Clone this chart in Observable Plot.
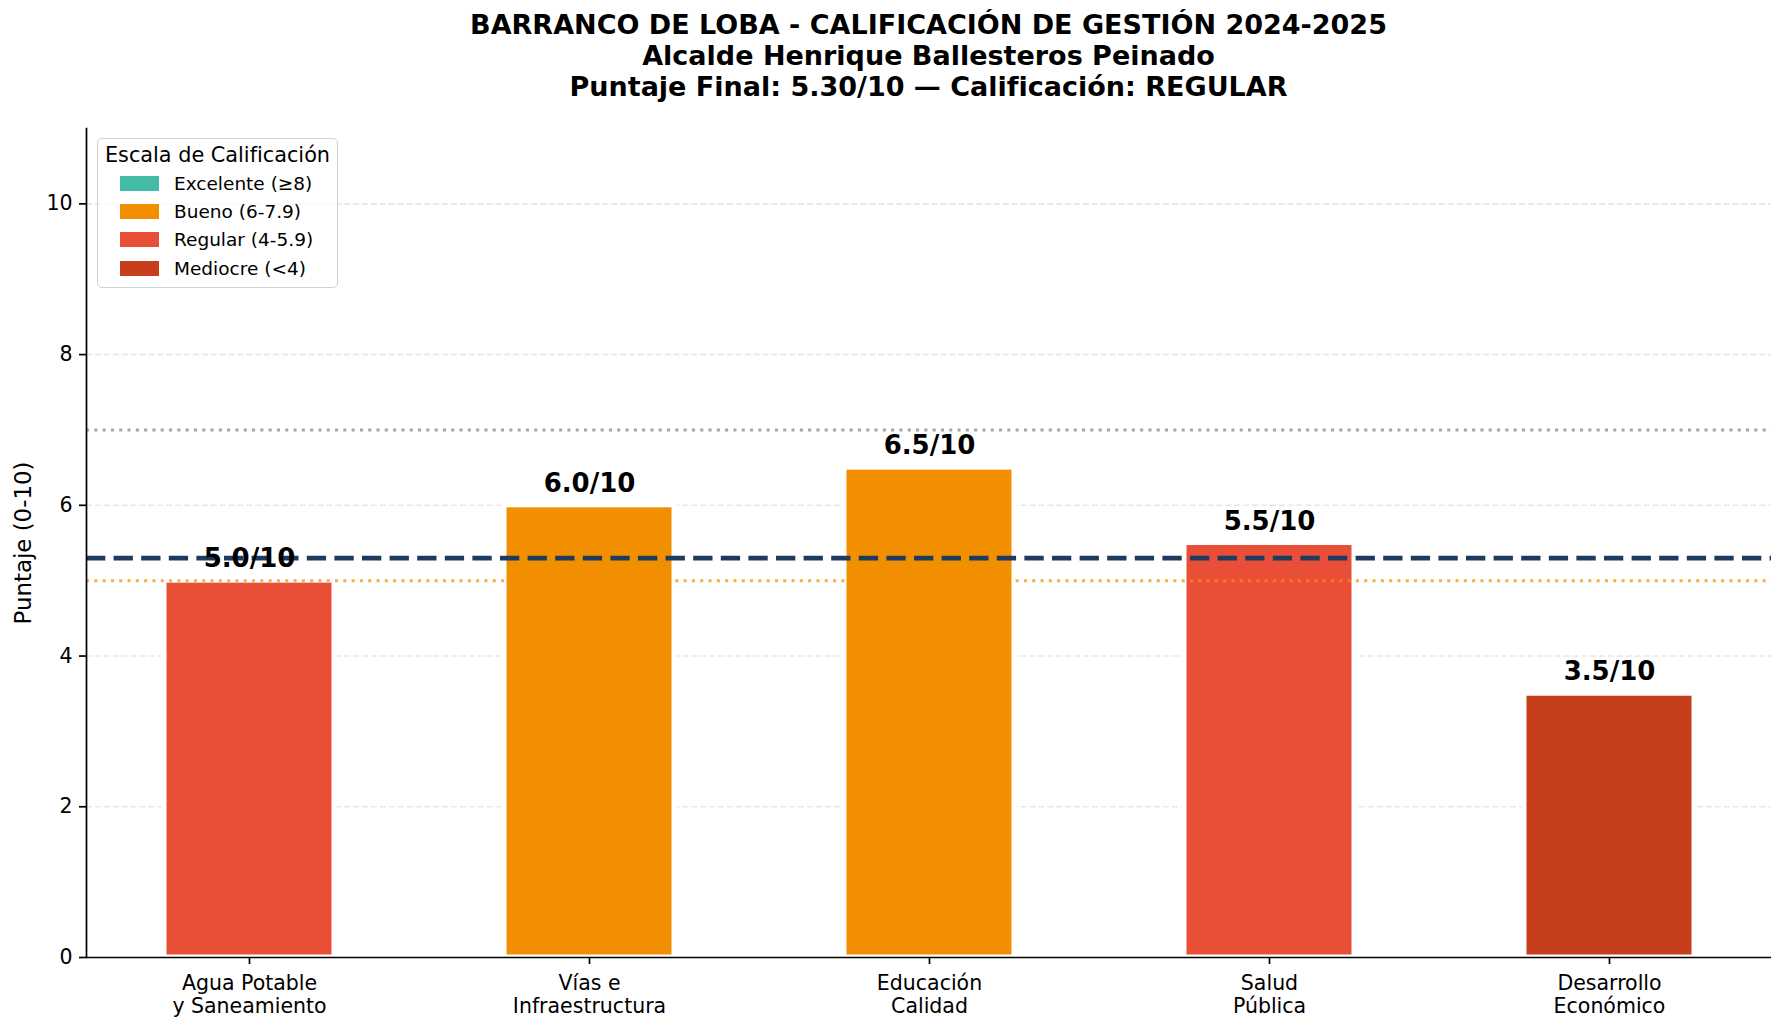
<!DOCTYPE html>
<html lang="es">
<head>
<meta charset="utf-8">
<script src="https://cdn.jsdelivr.net/npm/d3@7"></script>
<script src="https://cdn.jsdelivr.net/npm/@observablehq/plot@0.6"></script>
<style>
  html, body { margin: 0; padding: 0; background: #fff; overflow: hidden; }
  #wrap { position: relative; width: 1785px; height: 1031px; background: #fff; font-family: "DejaVu Sans", sans-serif; }
  #title {
    box-sizing: border-box; height: 110px; padding: 9px 14px 0 86px;
    text-align: center; font: bold 27px/31px "DejaVu Sans", sans-serif; color: #000;
  }
  #legend {
    position: absolute; left: 97px; top: 138px; width: 241px; height: 150px;
    box-sizing: border-box; border: 1.4px solid #d2d2d2; border-radius: 5px;
    background: rgba(255,255,255,0.8);
  }
  #legend .ltitle {
    position: absolute; left: 0; right: 0; top: 3px; text-align: center;
    font: 20.8px/26px "DejaVu Sans", sans-serif; color: #000; white-space: nowrap;
  }
  #legend .lbody { position: absolute; left: 22px; top: 30px; }
  .tiers-swatches { margin: 0 !important; font: 18.5px "DejaVu Sans", sans-serif !important; color: #000; }
  .tiers-swatch { display: flex !important; align-items: center; height: 28.3px; padding: 0 !important; margin: 0 !important; }
  .tiers-swatch > svg { margin-right: 15px !important; flex-shrink: 0; }
  .tiers-label { white-space: nowrap; }
</style>
</head>
<body>
<div id="wrap">
  <div id="title"></div>
  <div id="chart"></div>
  <div id="legend"><div class="ltitle">Escala de Calificación</div><div class="lbody"></div></div>
</div>
<script>
// Management areas evaluated (two-line labels) and their scores out of 10
const areas = [
  "Agua Potable\ny Saneamiento",
  "Vías e\nInfraestructura",
  "Educación\nCalidad",
  "Salud\nPública",
  "Desarrollo\nEconómico"
];
const scores = [5.0, 6.0, 6.5, 5.5, 3.5];

// Rating scale
const tiers = ["Excelente (≥8)", "Bueno (6-7.9)", "Regular (4-5.9)", "Mediocre (<4)"];
const tierColors = ["#44BBA4", "#F18F01", "#E94F37", "#C73E1D"];
const tierMins = [8, 6, 4, -Infinity];

// Reference levels and axis ticks
const goodLevel = 7;
const passLevel = 5;
const yTicks = [0, 2, 4, 6, 8, 10];
const yMax = 11;

const finalScore = d3.mean(scores);
const finalRating = "REGULAR";

const tierOf = v => tiers[tierMins.findIndex(m => v >= m)];
const rows = areas.map((area, i) => ({area, score: scores[i], tier: tierOf(scores[i])}));

// Heading above the chart
const titleLines = [
  "BARRANCO DE LOBA - CALIFICACIÓN DE GESTIÓN 2024-2025",
  "Alcalde Henrique Ballesteros Peinado",
  `Puntaje Final: ${finalScore.toFixed(2)}/10 — Calificación: ${finalRating}`
];
const titleEl = document.getElementById("title");
titleLines.forEach(t => { const d = document.createElement("div"); d.textContent = t; titleEl.appendChild(d); });

const chart = Plot.plot({
  width: 1785,
  height: 921,
  marginTop: 18,
  marginBottom: 74,
  marginLeft: 86,
  marginRight: 14,
  style: {fontFamily: "DejaVu Sans, sans-serif", fontSize: "20.5px", color: "#000", background: "#fff", overflow: "visible"},
  x: {domain: areas, paddingInner: 0.5, paddingOuter: 0.225, align: 0.5},
  y: {domain: [0, yMax]},
  color: {domain: tiers, range: tierColors},
  marks: [
    // light dashed grid
    Plot.ruleY(yTicks.filter(d => d > 0), {stroke: "#b0b0b0", strokeOpacity: 0.3, strokeWidth: 1.6, strokeDasharray: "6.2,2.7"}),
    // score bars
    Plot.barY(rows, {x: "area", y: "score", fill: "tier", stroke: "#fff", strokeWidth: 5}),
    // reference lines
    Plot.ruleY([goodLevel], {stroke: "gray", strokeOpacity: 0.7, strokeWidth: 3.1, strokeDasharray: "3.1,5.2"}),
    Plot.ruleY([passLevel], {stroke: "#F18F01", strokeOpacity: 0.7, strokeWidth: 3.1, strokeDasharray: "3.1,5.2"}),
    Plot.ruleY([finalScore], {stroke: "#1e3a5f", strokeWidth: 4.8, strokeDasharray: "19.3,8.3"}),
    // value labels
    Plot.text(rows, {
      x: "area", y: "score", text: d => `${d.score.toFixed(1)}/10`,
      lineAnchor: "bottom", dy: -13.5, fontSize: 26, fontWeight: "bold", fill: "#000"
    }),
    // axes
    Plot.axisY({ticks: yTicks, tickSize: 7, tickPadding: 7, fontSize: 20.5, strokeWidth: 1.7, label: null, color: "#000"}),
    Plot.axisX({tickSize: 7, tickPadding: 9, fontSize: 20.5, lineHeight: 1.12, strokeWidth: 1.7, label: null, color: "#000"}),
    Plot.text(["Puntaje (0-10)"], {
      text: d => d, frameAnchor: "left", textAnchor: "middle", rotate: -90, dx: -63, fontSize: 22.9, fill: "#000"
    }),
    Plot.frame({anchor: "left", stroke: "#000", strokeWidth: 1.7}),
    Plot.ruleY([0], {stroke: "#000", strokeWidth: 1.7})
  ]
});
document.getElementById("chart").appendChild(chart);

// Rating-scale legend
const legend = Plot.legend({
  legend: "swatches",
  color: {type: "ordinal", domain: tiers, range: tierColors},
  columns: 1,
  swatchWidth: 39,
  swatchHeight: 15,
  className: "tiers"
});
document.querySelector("#legend .lbody").appendChild(legend);
</script>
</body>
</html>
